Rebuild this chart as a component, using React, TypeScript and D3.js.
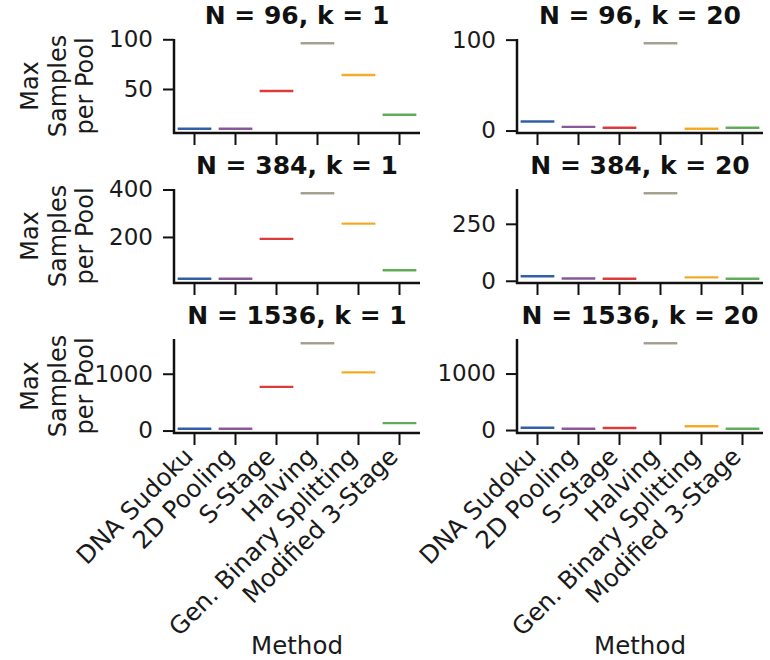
import React, { useEffect, useRef } from 'react';
import * as d3 from 'd3';

const methods = ['DNA Sudoku', '2D Pooling', 'S-Stage', 'Halving', 'Gen. Binary Splitting', 'Modified 3-Stage'];
const colors = ['#3562ac', '#8d5c9c', '#e23e3e', '#a9a696', '#fbb12b', '#63b15b'];
const sizes = [96, 384, 1536];
const ks = [1, 20];

// max samples per pool, one list per (N, k)
const k1N96 = [10, 10, 48, 96, 64, 24];
const k1N384 = [24, 24, 192, 384, 256, 60];
const k1N1536 = [32, 32, 768, 1536, 1024, 130];
const k20N96 = [10, 4, 3, 96, 2, 3];
const k20N384 = [20, 10, 9, 384, 15, 9];
const k20N1536 = [41, 23, 36, 1536, 66, 23];

const yTicksK1 = [[50, 100], [200, 400], [0, 1000]];
const yTicksK20 = [[0, 100], [0, 250], [0, 1000]];

const values = [
  [k1N96, k20N96],
  [k1N384, k20N384],
  [k1N1536, k20N1536],
];
const yTicks = [yTicksK1, yTicksK20];

const FONT = 'DejaVu Sans';

const App = () => {
  const ref = useRef(null);

  useEffect(() => {
    const svg = d3.select(ref.current);
    svg.selectAll('*').remove();

    const colLeft = [174, 517];
    const plotW = 246;
    const rowTop = [39, 189, 339];
    const plotH = 94;

    sizes.forEach((n, r) => {
      ks.forEach((k, c) => {
        const data = values[r][c];
        const g = svg.append('g').attr('transform', `translate(${colLeft[c]},${rowTop[r]})`);

        const x = d3.scaleBand().domain(methods).range([0, plotW]).padding(0);
        const [lo, hi] = d3.extent(data);
        const pad = (hi - lo) * 0.05;
        const y = d3.scaleLinear().domain([lo - pad, hi + pad]).range([plotH, 0]);

        // strips
        const bw = x.bandwidth();
        methods.forEach((m, i) => {
          const cx = x(m) + bw / 2;
          const yy = y(data[i]);
          g.append('line')
            .attr('x1', cx - 0.41 * bw).attr('x2', cx + 0.41 * bw)
            .attr('y1', yy).attr('y2', yy)
            .attr('stroke', colors[i]).attr('stroke-width', 2.4);
          g.append('line')
            .attr('x1', cx - 0.41 * bw).attr('x2', cx + 0.41 * bw)
            .attr('y1', yy).attr('y2', yy)
            .attr('stroke', d3.color(colors[i]).darker(0.8).toString())
            .attr('stroke-opacity', 0.55)
            .attr('stroke-dasharray', '1 1.5')
            .attr('stroke-width', 1);
        });

        // y axis
        const yAxis = g.append('g').call(d3.axisLeft(y).tickValues(yTicks[c][r]).tickSize(11).tickPadding(10)
          .tickSizeOuter(0).tickFormat(d3.format('d')));
        yAxis.select('.domain').remove();
        yAxis.selectAll('line').attr('stroke', '#111').attr('stroke-width', 2);
        yAxis.selectAll('text').attr('font-family', FONT).attr('font-size', 23).attr('fill', '#1a1a1a');

        // x axis
        const xAxis = g.append('g').attr('transform', `translate(0,${plotH})`)
          .call(d3.axisBottom(x).tickSize(12).tickSizeOuter(0).tickFormat(r === 2 ? (d) => d : () => ''));
        xAxis.select('.domain').remove();
        xAxis.selectAll('line').attr('stroke', '#111').attr('stroke-width', 2);
        xAxis.selectAll('text')
          .attr('font-family', FONT).attr('font-size', 24.5).attr('fill', '#1a1a1a')
          .attr('text-anchor', 'end')
          .attr('y', 0).attr('dy', 0)
          .attr('transform', 'translate(0,25) rotate(-45)');

        // spines
        g.append('line').attr('x1', 0).attr('x2', 0).attr('y1', 0).attr('y2', plotH + 1)
          .attr('stroke', '#111').attr('stroke-width', 2.5);
        g.append('line').attr('x1', -1).attr('x2', plotW).attr('y1', plotH).attr('y2', plotH)
          .attr('stroke', '#111').attr('stroke-width', 2.5);

        // title
        g.append('text')
          .attr('x', plotW / 2).attr('y', -15)
          .attr('text-anchor', 'middle')
          .attr('font-family', FONT).attr('font-size', 25).attr('font-weight', 'bold')
          .attr('fill', '#111')
          .text(`N = ${n}, k = ${k}`);

        // y label on left column
        if (c === 0) {
          ['Max', 'Samples', 'per Pool'].forEach((t, li) => {
            svg.append('text')
              .attr('transform', `translate(${38 + li * 27.5},${rowTop[r] + plotH / 2}) rotate(-90)`)
              .attr('text-anchor', 'middle')
              .attr('font-family', FONT).attr('font-size', 24).attr('fill', '#1a1a1a')
              .text(t);
          });
        }

        // x label on bottom row
        if (r === 2) {
          svg.append('text')
            .attr('x', colLeft[c] + plotW / 2).attr('y', 654)
            .attr('text-anchor', 'middle')
            .attr('font-family', FONT).attr('font-size', 24.5).attr('fill', '#1a1a1a')
            .text('Method');
        }
      });
    });
  }, []);

  return (
    <svg ref={ref} width={770} height={660}
      style={{ position: 'absolute', left: 0, top: 0, background: '#fff' }} />
  );
};

export default App;
